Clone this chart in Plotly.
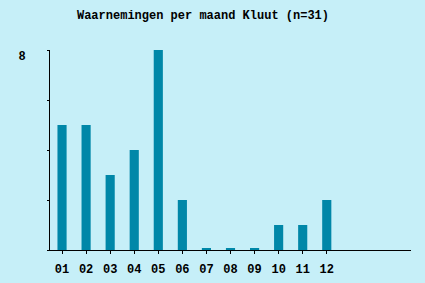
import plotly.graph_objects as go

months = ["01", "02", "03", "04", "05", "06", "07", "08", "09", "10", "11", "12"]
counts = [5, 5, 3, 4, 8, 2, 0, 0, 0, 1, 1, 2]
y_tickvals = [0, 2, 4, 6, 8]
y_ticktext = ["", "", "", "", "8"]

BG = "#c6eff8"
BAR = "#0087a8"
FONT = "Liberation Mono, Courier New, monospace"

# zero months are drawn as a thin stub at the baseline
shown = [c if c > 0 else 0.06 for c in counts]
xpos = list(range(len(months)))

fig = go.Figure(go.Bar(x=xpos, y=shown, marker=dict(color=BAR, line=dict(width=0)),
                       width=0.38, hoverinfo="skip"))

fig.update_layout(
    width=425, height=283,
    margin=dict(l=50, r=14, t=50, b=33, autoexpand=False),
    paper_bgcolor=BG, plot_bgcolor=BG,
    showlegend=False,
    title=dict(text="<b>Waarnemingen per maand Kluut (n=31)</b>",
               x=203/425, xanchor="center", xref="container",
               y=1-15/283, yanchor="middle", yref="container", automargin=False,
               font=dict(family=FONT, size=12, color="black")),
    font=dict(family=FONT, size=12, color="black"),
)
fig.update_xaxes(range=[-0.5, 14.5], tickvals=xpos, ticktext=[f"<b>{m}</b>" for m in months],
                 tickangle=0, automargin=False,
                 showgrid=False, zeroline=False, showline=True, linecolor="black", linewidth=1,
                 ticks="outside", ticklen=3, tickcolor="black", ticklabelstandoff=5)
fig.update_yaxes(range=[0, 8], tickvals=y_tickvals, ticktext=[f"<b>{t}</b>" for t in y_ticktext],
                 automargin=False,
                 showgrid=False, zeroline=False, showline=True, linecolor="black", linewidth=1,
                 ticks="outside", ticklen=2, tickcolor="black", ticklabelstandoff=19,
                 ticklabelshift=6)

fig.write_html("out.html")
